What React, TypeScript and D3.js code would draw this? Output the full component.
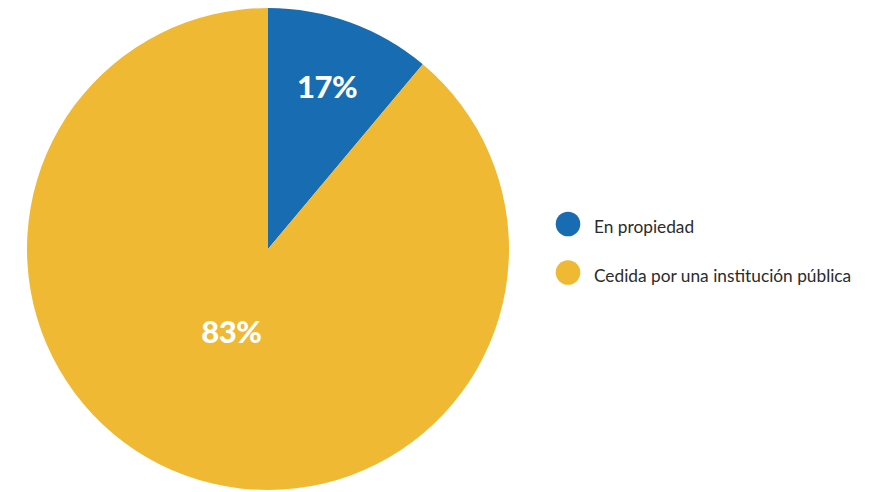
import React from "react";
import * as d3 from "d3";

const categories = ["En propiedad", "Cedida por una institución pública"];
// slice sizes as drawn in the picture
const sliceValues = [11.1, 88.9];
// labels printed on the slices
const sliceLabels = ["17%", "83%"];
const colors = ["#176CB2", "#EFB933"];

const W = 881;
const H = 492;

export default function App() {
  const cx = 268;
  const cy = 249;
  const R = 241;
  const pie = d3.pie<number>().sort(null).value((d) => d)(sliceValues);
  const arc = d3.arc<d3.PieArcDatum<number>>().innerRadius(0).outerRadius(R);
  const labelR = [173, 90];
  const labelShift = [0, 0.07];
  const legendY = d3.scalePoint<string>().domain(categories).range([224, 272.5]);
  return (
    <svg width={W} height={H} style={{ position: "absolute", left: 0, top: 0 }}>
      <g transform={`translate(${cx},${cy})`}>
        {pie.map((p, i) => (
          <path key={i} d={arc(p) || ""} fill={colors[i]} />
        ))}
        {pie.map((p, i) => {
          const a = (p.startAngle + p.endAngle) / 2 + labelShift[i];
          const x = labelR[i] * Math.sin(a);
          const y = -labelR[i] * Math.cos(a);
          return (
            <text
              key={i}
              x={x}
              y={y}
              textAnchor="middle"
              dominantBaseline="central"
              fill="#fff"
              fontFamily="Lato, 'Open Sans', sans-serif"
              fontWeight={900}
              fontSize={31}
              letterSpacing={-0.5}
            >
              {sliceLabels[i]}
            </text>
          );
        })}
      </g>
      {categories.map((c, i) => (
        <g key={c} transform={`translate(568,${legendY(c)})`}>
          <circle r={12.3} fill={colors[i]} />
          <text
            x={26}
            y={9}
            fontFamily="Lato, 'Open Sans', sans-serif"
            fontSize={17.3}
            fill="#2b2b2b"
          >
            {c}
          </text>
        </g>
      ))}
    </svg>
  );
}
